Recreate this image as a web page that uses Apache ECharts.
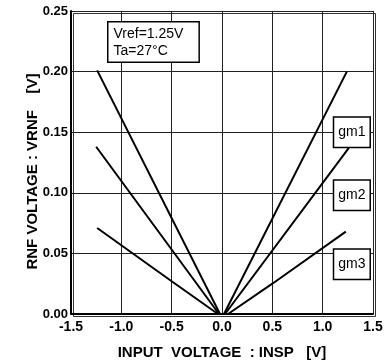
<!DOCTYPE html>
<html>
<head>
    <meta charset="UTF-8"/>
    <script type="text/javascript" src="https://cdn.jsdelivr.net/npm/echarts@6/dist/echarts.min.js"></script>
    <title>echart</title>
    <style>
        html, body {margin: 0; padding: 0; background: #fff;}
        #chart {width: 391px; height: 361px;}
    </style>
</head>
<body>
<div id="chart"></div>
<script>
    // data
    var xTicks = [-1.5, -1.0, -0.5, 0.0, 0.5, 1.0, 1.5];
    var yTicks = [0.00, 0.05, 0.10, 0.15, 0.20, 0.25];
    var seriesNames = ['gm1', 'gm2', 'gm3'];
    var gm1 = [[-1.24, 0.201], [-0.02, 0], [0.02, 0], [1.24, 0.200]];
    var gm2 = [[-1.25, 0.138], [-0.03, 0], [0.03, 0], [1.26, 0.137]];
    var gm3 = [[-1.24, 0.071], [-0.5, 0.027], [-0.04, 0], [0.06, 0], [0.5, 0.025], [1.23, 0.068]];
    var labelPos = [[1.29, 0.150], [1.29, 0.098], [1.29, 0.041]];

    var font = 'Liberation Sans';
    var chart = echarts.init(document.getElementById('chart'));

    function makeSeries(name, data, pos) {
        return {
            name: name,
            type: 'line',
            data: data,
            symbol: 'none',
            silent: true,
            lineStyle: {color: '#000', width: 2},
            markPoint: {
                symbol: 'rect',
                symbolSize: 0,
                data: [{coord: pos}],
                label: {
                    show: true,
                    formatter: name,
                    color: '#000',
                    fontFamily: font,
                    fontSize: 14,
                    backgroundColor: '#fff',
                    borderColor: '#000',
                    borderWidth: 1.5,
                    padding: [8, 4, 7, 4]
                }
            }
        };
    }

    var option = {
        animation: false,
        grid: {left: 71, right: 18, top: 11, bottom: 47, outerBoundsMode: 'none'},
        xAxis: {
            type: 'value',
            min: -1.5, max: 1.5, interval: 0.5,
            name: 'INPUT  VOLTAGE  : INSP   [V]',
            nameLocation: 'middle',
            nameGap: 31,
            nameTextStyle: {color: '#000', fontFamily: font, fontSize: 15, fontWeight: 'bold'},
            axisLine: {show: true, onZero: false, lineStyle: {color: '#000', width: 2}},
            axisTick: {show: false},
            axisLabel: {
                color: '#000', fontFamily: font, fontSize: 14, fontWeight: 'bold', margin: 6,
                formatter: function (v) { return v.toFixed(1); }
            },
            splitLine: {lineStyle: {color: '#222', width: 1}}
        },
        yAxis: {
            type: 'value',
            min: 0, max: 0.25, interval: 0.05,
            name: 'RNF VOLTAGE : VRNF    [V]',
            nameLocation: 'middle',
            nameGap: 31,
            nameMoveOverlap: false,
            nameTextStyle: {color: '#000', fontFamily: font, fontSize: 15, fontWeight: 'bold', padding: [0, 18, 0, 0]},
            axisLine: {show: true, onZero: false, lineStyle: {color: '#000', width: 2}},
            axisTick: {show: false},
            axisLabel: {
                color: '#000', fontFamily: font, fontSize: 13, fontWeight: 'bold', margin: 3,
                formatter: function (v) { return v.toFixed(2); }
            },
            splitLine: {lineStyle: {color: '#222', width: 1}}
        },
        series: [
            makeSeries(seriesNames[0], gm1, labelPos[0]),
            makeSeries(seriesNames[1], gm2, labelPos[1]),
            makeSeries(seriesNames[2], gm3, labelPos[2])
        ],
        graphic: [
            {
                type: 'rect',
                shape: {x: 0, y: 0, width: 373 - 71, height: 314 - 11},
                left: 71, top: 11,
                style: {fill: 'none', stroke: '#333', lineWidth: 1},
                silent: true
            },
            {
                type: 'text',
                left: 107, top: 21,
                style: {
                    text: 'Vref=1.25V\nTa=27°C',
                    font: '14px ' + font,
                    fill: '#000',
                    lineHeight: 17,
                    backgroundColor: '#fff',
                    borderColor: '#000',
                    borderWidth: 1.5,
                    padding: [3, 15, 2, 5]
                },
                z: 10
            }
        ]
    };
    chart.setOption(option);
</script>
</body>
</html>
